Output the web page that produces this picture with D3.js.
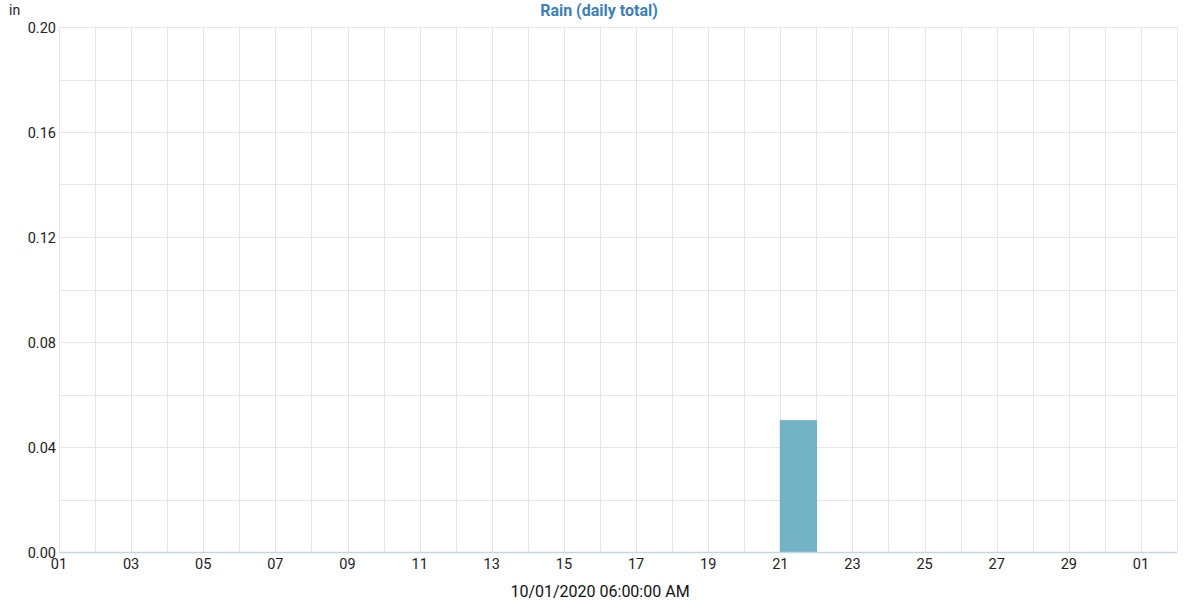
<!DOCTYPE html>
<html>
<head>
<meta charset="utf-8">
<script src="https://cdn.jsdelivr.net/npm/d3@7"></script>
<style>
  body { margin: 0; background: #fff; }
  text { font-family: Roboto, "Noto Sans", sans-serif; }
</style>
</head>
<body>
<div id="chart"></div>
<script>
// daily rain totals, one per day starting 10/01
var dayLabels = ["01","02","03","04","05","06","07","08","09","10","11","12","13","14","15","16",
  "17","18","19","20","21","22","23","24","25","26","27","28","29","30","31"];
var rainValues = [0,0,0,0,0,0,0,0,0,0,0,0,0,0,0,0,0,0,0,0,0.05,0,0,0,0,0,0,0,0,0,0];
var tickLabels = ["01","03","05","07","09","11","13","15","17","19","21","23","25","27","29","01"];
var yTicks = [0, 0.04, 0.08, 0.12, 0.16, 0.2];

var width = 1200, height = 600;
var margin = { top: 27, right: 23, bottom: 48, left: 59 };

var svg = d3.select("#chart").append("svg")
  .attr("width", width)
  .attr("height", height);

var x = d3.scaleLinear()
  .domain([0, dayLabels.length])
  .range([margin.left, width - margin.right]);

var y = d3.scaleLinear()
  .domain([0, 0.2])
  .range([height - margin.bottom, margin.top]);

// grid
svg.append("g")
  .selectAll("line")
  .data(d3.range(0, dayLabels.length + 1))
  .enter()
  .append("line")
  .attr("x1", function(d) { return Math.round(x(d)) + 0.5; })
  .attr("x2", function(d) { return Math.round(x(d)) + 0.5; })
  .attr("y1", margin.top)
  .attr("y2", height - margin.bottom)
  .style("stroke", "#e6e6e6");

svg.append("g")
  .selectAll("line")
  .data(d3.range(0, 11).map(function(i) { return i * 0.02; }))
  .enter()
  .append("line")
  .attr("x1", margin.left)
  .attr("x2", width - margin.right)
  .attr("y1", function(d) { return Math.round(y(d)) + 0.5; })
  .attr("y2", function(d) { return Math.round(y(d)) + 0.5; })
  .style("stroke", "#e6e6e6");

// bars (only the days with rain get a visible bar)
svg.append("g")
  .selectAll("rect")
  .data(rainValues)
  .enter()
  .append("rect")
  .attr("x", function(d, i) { return x(i); })
  .attr("width", x(1) - x(0))
  .attr("y", function(d) { return y(d); })
  .attr("height", function(d) { return y(0) - y(d); })
  .style("fill", "#74b3c6")
  .style("stroke", function(d) { return d > 0 ? "#6aaac0" : "none"; })
  .style("stroke-width", 1);

// baseline
svg.append("line")
  .attr("x1", margin.left)
  .attr("x2", width - margin.right)
  .attr("y1", Math.round(y(0)) + 0.5)
  .attr("y2", Math.round(y(0)) + 0.5)
  .style("stroke", "#c3d6e6")
  .style("stroke-width", 1.5);

// y labels
svg.append("g")
  .selectAll("text")
  .data(yTicks)
  .enter()
  .append("text")
  .attr("x", margin.left - 3)
  .attr("y", function(d) { return y(d) + 6; })
  .attr("text-anchor", "end")
  .style("font-size", "14.5px")
  .style("fill", "#222")
  .text(function(d) { return d3.format(".2f")(d); });

// x labels
svg.append("g")
  .selectAll("text")
  .data(tickLabels)
  .enter()
  .append("text")
  .attr("x", function(d, i) { return x(i * 2); })
  .attr("y", height - margin.bottom + 17)
  .attr("text-anchor", "middle")
  .style("font-size", "14.5px")
  .style("fill", "#222")
  .text(function(d) { return d; });

// unit
svg.append("text")
  .attr("x", 9)
  .attr("y", 15)
  .style("font-size", "14px")
  .style("fill", "#222")
  .text("in");

// title
svg.append("text")
  .attr("x", 599)
  .attr("y", 16)
  .attr("text-anchor", "middle")
  .style("font-size", "16px")
  .style("font-weight", "bold")
  .style("fill", "#3d7fb9")
  .text("Rain (daily total)");

// date label
svg.append("text")
  .attr("x", 600)
  .attr("y", 597)
  .attr("text-anchor", "middle")
  .style("font-size", "16px")
  .style("fill", "#111")
  .text("10/01/2020 06:00:00 AM");
</script>
</body>
</html>
